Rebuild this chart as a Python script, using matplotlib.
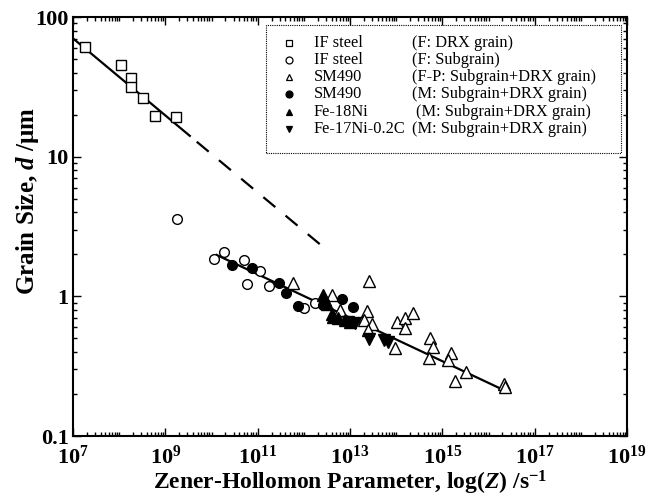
import matplotlib
matplotlib.use('Agg')
import matplotlib.pyplot as plt
import numpy as np
from matplotlib.ticker import LogLocator, FixedLocator, NullFormatter, FuncFormatter

plt.rcParams['font.family'] = ['Liberation Serif', 'DejaVu Serif']
plt.rcParams['mathtext.fontset'] = 'custom'
plt.rcParams['mathtext.rm'] = 'Liberation Serif:bold'
plt.rcParams['mathtext.it'] = 'Liberation Serif:italic:bold'
plt.rcParams['mathtext.bf'] = 'Liberation Serif:bold'

# IF steel, DRX grain (log10 Z, d)
if_drx_logz = [7.25, 8.03, 8.26, 8.26, 8.52, 8.78, 9.22]
if_drx_d = [61.3, 45.6, 36.4, 31.4, 26.4, 19.6, 19.2]

# IF steel, subgrain
if_sub_logz = [9.26, 10.05, 10.27, 10.71, 10.76, 11.05, 11.24, 12.00, 12.24]
if_sub_d = [3.58, 1.85, 2.09, 1.82, 1.23, 1.52, 1.19, 0.83, 0.90]

# SM490 F-P
sm_fp_logz = [11.77, 12.62, 13.42, 12.78, 13.36, 13.30, 13.48, 13.40, 14.02, 14.19, 14.37,
              14.19, 13.97, 14.73, 14.79, 14.72, 15.18, 15.13, 15.51, 15.27, 16.33, 16.36]
sm_fp_d = [1.24, 1.02, 1.29, 0.80, 0.785, 0.678, 0.634, 0.57, 0.659, 0.697, 0.757,
           0.597, 0.425, 0.501, 0.437, 0.361, 0.395, 0.351, 0.289, 0.249, 0.235, 0.225]

# SM490 M
sm_m_logz = [10.45, 10.88, 11.46, 11.61, 11.87, 12.42, 12.82, 13.06]
sm_m_d = [1.69, 1.59, 1.24, 1.05, 0.857, 0.867, 0.953, 0.843]

# Fe-18Ni
fe18_logz = [12.42, 12.46, 12.50, 12.64, 12.75, 12.89, 13.00, 12.60]
fe18_d = [1.02, 0.94, 0.88, 0.716, 0.697, 0.676, 0.659, 0.75]

# Fe-17Ni-0.2C
fe17_logz = [13.42, 13.73, 13.83, 12.95, 13.10]
fe17_d = [0.493, 0.488, 0.470, 0.66, 0.64]

# fitted lines
fit1_logz = [7.0, 9.53]
fit1_d = [70.3, 14.1]
fit1_ext_logz = [9.68, 12.41]
fit1_ext_d = [12.8, 2.27]
fit2_logz = [10.11, 16.32]
fit2_d = [1.98, 0.214]

legend_names = ['IF steel', 'IF steel', 'SM490', 'SM490', 'Fe-18Ni', 'Fe-17Ni-0.2C']
legend_desc = ['(F: DRX grain)', '(F: Subgrain)', '(F-P: Subgrain+DRX grain)',
               '(M: Subgrain+DRX grain)', '(M: Subgrain+DRX grain)', '(M: Subgrain+DRX grain)']

fig = plt.figure(figsize=(6.56, 5.01), dpi=100)
ax = fig.add_axes([0.1113, 0.1297, 0.8445, 0.8363])


def pw(v):
    return 10 ** np.array(v)


ax.plot(pw(fit1_logz), fit1_d, color='k', lw=1.6)
ax.plot(pw(fit1_ext_logz), fit1_ext_d, color='k', lw=1.6, dashes=(7, 6))
ax.plot(pw(fit2_logz), fit2_d, color='k', lw=1.6)

ms = 7
styles = [
    (if_drx_logz, if_drx_d, 's', 'white', ms),
    (if_sub_logz, if_sub_d, 'o', 'white', ms),
    (sm_fp_logz, sm_fp_d, '^', 'white', ms + 1),
    (sm_m_logz, sm_m_d, 'o', 'black', ms),
    (fe18_logz, fe18_d, '^', 'black', ms + 1),
    (fe17_logz, fe17_d, 'v', 'black', ms + 1),
]
for lz, d, m, fc, s in styles:
    ax.plot(pw(lz), d, ls='none', marker=m, mfc=fc, mec='k', mew=1.0, ms=s)

ax.set_xscale('log')
ax.set_yscale('log')
ax.set_xlim(1e7, 1e19)
ax.set_ylim(0.1, 100)

ax.xaxis.set_major_locator(FixedLocator(10.0 ** np.arange(7, 20, 2)))
ax.xaxis.set_minor_locator(LogLocator(base=10, subs=np.arange(1, 10), numticks=100))
ax.xaxis.set_minor_formatter(NullFormatter())
ax.xaxis.set_major_formatter(FuncFormatter(lambda v, p: r'$\mathregular{10^{%d}}$' % round(np.log10(v))))
ax.yaxis.set_major_locator(FixedLocator([0.1, 1, 10, 100]))
ax.yaxis.set_minor_locator(LogLocator(base=10, subs=np.arange(2, 10), numticks=100))
ax.yaxis.set_minor_formatter(NullFormatter())
ax.yaxis.set_major_formatter(FuncFormatter(lambda v, p: '%g' % v))

ax.tick_params(which='both', direction='in', top=True, right=True, width=1.0)
ax.tick_params(which='major', length=6, labelsize=16)
ax.tick_params(axis='x', which='major', pad=7)
ax.tick_params(axis='y', which='major', pad=3)
ax.tick_params(which='minor', length=3)
for lab in ax.get_xticklabels() + ax.get_yticklabels():
    lab.set_fontweight('bold')
for sp in ax.spines.values():
    sp.set_linewidth(1.5)

ax.set_xlabel(r'Zener-Hollomon Parameter, log($\it{Z}$) /s$^{\mathregular{-1}}$',
              fontsize=17, fontweight='bold', labelpad=0)
ax.set_ylabel(r'Grain Size, $\it{d}$ /$\mathregular{\mu}$m', fontsize=18,
              fontweight='bold')
ax.yaxis.set_label_coords(-0.058, 0.56)

# legend drawn by hand
box = plt.Rectangle((0.348, 0.676), 0.642, 0.305, transform=ax.transAxes,
                    fill=False, ec='k', lw=0.8, ls=(0, (1, 1)))
ax.add_patch(box)
rows_y = [0.939, 0.897, 0.857, 0.816, 0.774, 0.733]
desc_x = [0.611, 0.611, 0.611, 0.611, 0.620, 0.611]
for i, (lz, d, m, fc, s) in enumerate(styles):
    ax.plot([0.390], [rows_y[i]], transform=ax.transAxes, marker=m, mfc=fc,
            mec='k', mew=0.9, ms=5, ls='none', clip_on=False)
    ax.text(0.435, rows_y[i], legend_names[i], transform=ax.transAxes,
            fontsize=11.8, va='center', ha='left')
    ax.text(desc_x[i], rows_y[i], legend_desc[i], transform=ax.transAxes,
            fontsize=11.8, va='center', ha='left')

fig.savefig('out.png', dpi=100)
